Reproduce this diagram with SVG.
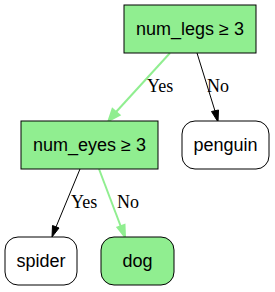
<svg xmlns="http://www.w3.org/2000/svg" width="275" height="292" viewBox="0 0 275 292">
<style>
.box{stroke:#000;stroke-width:1}
.dec{fill:#90ee90}
.leaf{fill:#fff}
.leafg{fill:#90ee90}
.nl{font-family:"Liberation Sans",Arial,sans-serif;font-size:18px;text-anchor:middle;fill:#000}
.el{font-family:"Liberation Serif","Times New Roman",serif;font-size:18px;fill:#000}
.e{fill:none;stroke:#000;stroke-width:1}
.eg{fill:none;stroke:#90ee90;stroke-width:2}
.ah{fill:#000;stroke:#000;stroke-width:1}
.ahg{fill:#90ee90;stroke:#90ee90;stroke-width:2}
</style>
<rect width="275" height="292" fill="#fff"/>
<g id="edges">
<g id="e1">
<path class="eg" d="M170,53 L116,112"/>
<polygon class="ahg" points="112.5,109 108.5,121 119.5,115"/>
<text class="el" x="147" y="92">Yes</text>
</g>
<g id="e2">
<path class="e" d="M197,53 L215,111"/>
<polygon class="ah" points="211.5,111.5 218,122 218.5,110"/>
<text class="el" x="207" y="92">No</text>
</g>
<g id="e3">
<path class="e" d="M80,169 L56,227"/>
<polygon class="ah" points="52.5,225.5 52,237 59,228"/>
<text class="el" x="71" y="208">Yes</text>
</g>
<g id="e4">
<path class="eg" d="M99,169 L121,227"/>
<polygon class="ahg" points="117.5,227.5 125,237 124.5,225"/>
<text class="el" x="117" y="208">No</text>
</g>
</g>
<g id="n_root">
<rect class="box dec" x="124" y="5" width="132" height="48"/>
<text class="nl" x="190" y="35">num_legs ≥ 3</text>
</g>
<g id="n_eyes">
<rect class="box dec" x="21" y="121" width="137" height="48"/>
<text class="nl" x="89.5" y="151">num_eyes ≥ 3</text>
</g>
<g id="n_penguin">
<rect class="box leaf" x="182" y="121" width="87" height="48" rx="13" ry="13"/>
<text class="nl" x="225.5" y="151">penguin</text>
</g>
<g id="n_spider">
<rect class="box leaf" x="5" y="237" width="72" height="48" rx="13" ry="13"/>
<text class="nl" x="41" y="267">spider</text>
</g>
<g id="n_dog">
<rect class="box leafg" x="101" y="237" width="73" height="48" rx="13" ry="13"/>
<text class="nl" x="137.5" y="267">dog</text>
</g>
</svg>
